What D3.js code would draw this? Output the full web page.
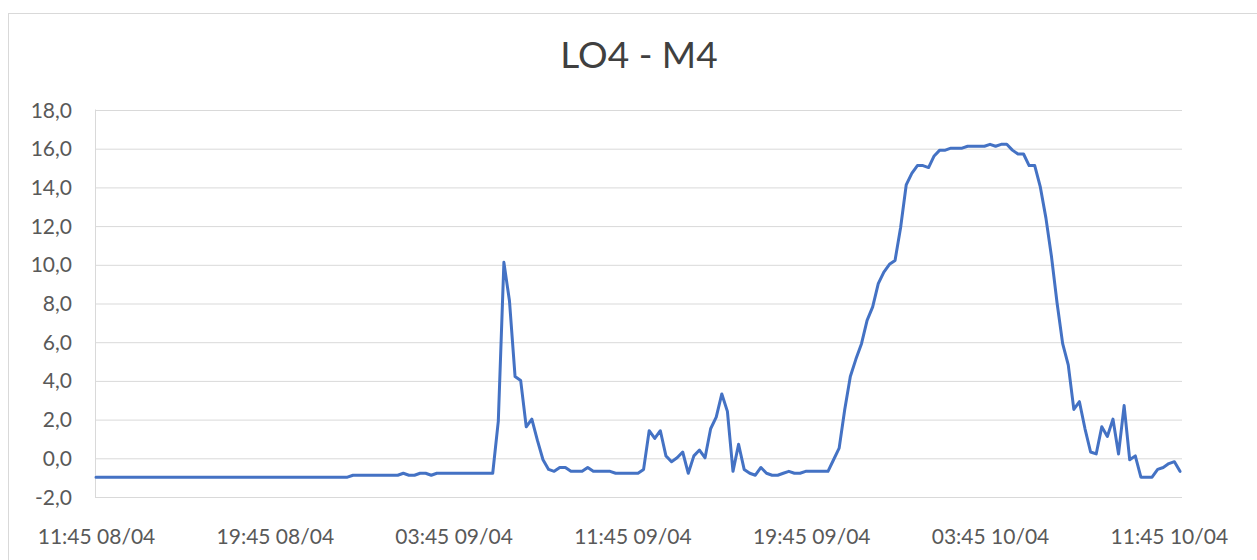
<!DOCTYPE html>
<html>
<head>
<meta charset="utf-8">
<script src="https://cdn.jsdelivr.net/npm/d3@7"></script>
<style>
  body { margin: 0; background: #fff; }
  svg { display: block; font-family: Lato, "Open Sans", sans-serif; }
</style>
</head>
<body>
<svg id="chart" width="1257" height="560"></svg>
<script>
// LO4 - M4, one reading every 15 minutes from 11:45 08/04
const title = "LO4 - M4";
const startTime = new Date(2000, 3, 8, 11, 45);
const stepMinutes = 15;

const values = [
  // 11:45 08/04 ->
  -1.0, -1.0, -1.0, -1.0, -1.0, -1.0, -1.0, -1.0, -1.0, -1.0, -1.0, -1.0, -1.0, -1.0, -1.0, -1.0,
  -1.0, -1.0, -1.0, -1.0, -1.0, -1.0, -1.0, -1.0, -1.0, -1.0, -1.0, -1.0, -1.0, -1.0, -1.0, -1.0,
  -1.0, -1.0, -1.0, -1.0, -1.0, -1.0, -1.0, -1.0, -1.0, -1.0, -1.0, -1.0, -1.0, -1.0,
  -0.9, -0.9, -0.9, -0.9, -0.9, -0.9, -0.9, -0.9, -0.9,
  -0.8, -0.9, -0.9, -0.8, -0.8, -0.9,
  -0.8, -0.8, -0.8, -0.8, -0.8, -0.8, -0.8, -0.8, -0.8, -0.8, -0.8,
  // first peak
  1.9, 10.1, 8.1, 4.2, 4.0, 1.6, 2.0, 0.9,
  -0.1, -0.6, -0.7, -0.5, -0.5, -0.7, -0.7, -0.7, -0.5, -0.7, -0.7, -0.7, -0.7,
  -0.8, -0.8, -0.8, -0.8, -0.8,
  -0.6, 1.4, 1.0, 1.4, 0.1, -0.2, 0.0, 0.3, -0.8, 0.1, 0.4, 0.0, 1.5, 2.1, 3.3, 2.4,
  -0.7, 0.7, -0.6, -0.8, -0.9, -0.5, -0.8, -0.9, -0.9, -0.8, -0.7, -0.8, -0.8,
  -0.7, -0.7, -0.7, -0.7, -0.7,
  // big rise
  -0.1, 0.5, 2.5, 4.2, 5.1, 5.9, 7.1, 7.8, 9.0, 9.6, 10.0, 10.2, 11.9, 14.1, 14.7, 15.1, 15.1, 15.0,
  15.6, 15.9, 15.9, 16.0, 16.0, 16.0, 16.1, 16.1, 16.1, 16.1, 16.2, 16.1, 16.2, 16.2,
  15.9, 15.7, 15.7, 15.1, 15.1, 14.0, 12.4, 10.4, 8.0, 5.9, 4.8, 2.5, 2.9, 1.5, 0.3, 0.2,
  1.6, 1.1, 2.0, 0.2, 2.7, -0.1, 0.1, -1.0, -1.0, -1.0, -0.6, -0.5, -0.3, -0.2, -0.7
];

const tickLabels = ["11:45 08/04", "19:45 08/04", "03:45 09/04", "11:45 09/04",
                    "19:45 09/04", "03:45 10/04", "11:45 10/04"];
const yTicks = [-2, 0, 2, 4, 6, 8, 10, 12, 14, 16, 18];

const fmtTime = d3.timeFormat("%H:%M %d/%m");
const categories = values.map((v, i) => fmtTime(d3.timeMinute.offset(startTime, i * stepMinutes)));

const locale = d3.formatLocale({ decimal: ",", thousands: ".", grouping: [3], currency: ["", ""], minus: "-" });
const fmtY = locale.format(".1f");

const svg = d3.select("#chart");
const plot = { left: 95, right: 1182, top: 109.5, bottom: 496.5 };

// chart border (runs off the right and bottom edge)
svg.append("rect")
  .attr("x", 8.5).attr("y", 13.5)
  .attr("width", 1400).attr("height", 700)
  .attr("fill", "none")
  .attr("stroke", "#d9d9d9");

const x = d3.scalePoint()
  .domain(categories)
  .range([96, 1180]);

const y = d3.scaleLinear()
  .domain([-2, 18])
  .range([plot.bottom, plot.top]);

// gridlines
svg.append("g")
  .attr("transform", `translate(${plot.left},0)`)
  .call(d3.axisLeft(y).tickValues(yTicks).tickSize(-(plot.right - plot.left)).tickFormat(""))
  .call(g => g.select(".domain").remove())
  .call(g => g.selectAll("line").attr("stroke", "#d9d9d9").attr("stroke-width", 1)
    .attr("transform", "translate(0,0.5)"));

// vertical axis line
svg.append("line")
  .attr("x1", plot.left + 0.5).attr("x2", plot.left + 0.5)
  .attr("y1", plot.top).attr("y2", plot.bottom + 1)
  .attr("stroke", "#d9d9d9");

// y labels
svg.append("g")
  .attr("transform", "translate(72,0)")
  .call(d3.axisLeft(y).tickValues(yTicks).tickSize(0).tickPadding(0).tickFormat(fmtY))
  .call(g => g.select(".domain").remove())
  .call(g => g.selectAll("text")
    .attr("font-family", "Lato, sans-serif")
    .attr("font-size", 21)
    .attr("fill", "#595959")
    .attr("dy", "0.36em"));

// x labels
svg.append("g")
  .attr("transform", "translate(0,544)")
  .call(d3.axisBottom(x).tickValues(tickLabels).tickSize(0).tickPadding(0))
  .call(g => g.select(".domain").remove())
  .call(g => g.selectAll("text")
    .attr("font-family", "Lato, sans-serif")
    .attr("font-size", 21)
    .attr("fill", "#595959")
    .attr("dy", 0)
    .attr("y", 0));

// series
const line = d3.line()
  .x((d, i) => x(categories[i]))
  .y(d => y(d));

svg.append("path")
  .datum(values)
  .attr("d", line)
  .attr("fill", "none")
  .attr("stroke", "#4472C4")
  .attr("stroke-width", 3)
  .attr("stroke-linejoin", "round")
  .attr("stroke-linecap", "round");

// title
svg.append("text")
  .attr("x", 639)
  .attr("y", 68)
  .attr("text-anchor", "middle")
  .attr("font-family", "Lato, sans-serif")
  .attr("font-size", 37)
  .attr("fill", "#404040")
  .text(title);
</script>
</body>
</html>
